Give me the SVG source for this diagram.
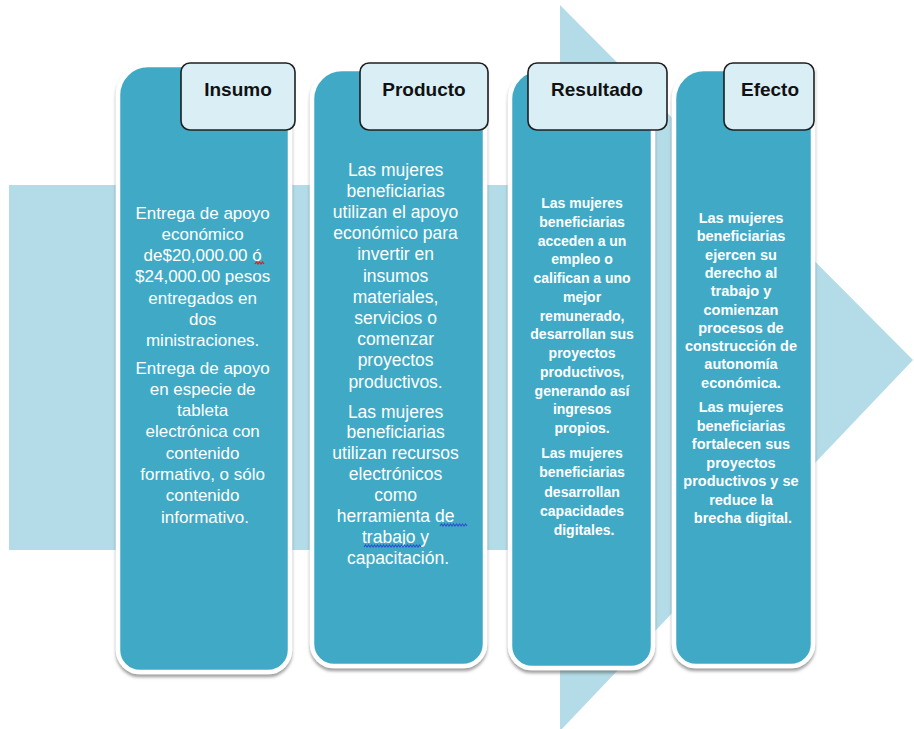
<svg xmlns="http://www.w3.org/2000/svg" width="914" height="729" viewBox="0 0 914 729">
<defs>
<filter id="sh" x="-10%" y="-5%" width="120%" height="112%">
<feDropShadow dx="0" dy="3" stdDeviation="1.8" flood-color="#555" flood-opacity="0.55"/>
</filter>
<style>
.arrow{fill:#b3dce8}
.col{fill:#3faac6;stroke:#ffffff;stroke-width:4.5;filter:url(#sh)}
.hdr{fill:#d9eef5;stroke:#1f1f1f;stroke-width:1.6}
.ht{font-family:"Liberation Sans",Arial,sans-serif;font-weight:bold;font-size:19px;fill:#111;text-anchor:middle}
.bt{font-family:"Liberation Sans",Arial,sans-serif;fill:#ffffff;text-anchor:middle}
.c1{font-size:17px}
.c2{font-size:17.5px}
.c3{font-size:14px;font-weight:bold}
.c4{font-size:14.5px;font-weight:bold}
.sq{fill:none;stroke-width:1.2}
</style>
</defs>
<rect width="914" height="729" fill="#ffffff"/>
<g id="background-arrow">
<rect class="arrow" x="9" y="185" width="553" height="365"/>
<polygon class="arrow" points="560,5 913,360 560,731"/>
</g>
<g id="insumo">
<path class="col" d="M118,95 A30,30 0 0 1 148,65 L290,65 L290,650 A22,22 0 0 1 268,672 L140,672 A22,22 0 0 1 118,650 Z"/>
<rect class="hdr" x="181" y="63" width="114" height="67" rx="9"/>
<text class="ht" x="238" y="96">Insumo</text>
<text class="bt c1">
<tspan x="205" y="218.5">Entrega de apoyo</tspan>
<tspan x="205" y="239.8">económico</tspan>
<tspan x="205" y="261.1">de$20,000.00 ó</tspan>
<tspan x="205" y="282.4">$24,000.00 pesos</tspan>
<tspan x="205" y="303.7">entregados en</tspan>
<tspan x="205" y="325">dos</tspan>
<tspan x="205" y="346.3">ministraciones.</tspan>
<tspan x="205" y="373.5">Entrega de apoyo</tspan>
<tspan x="205" y="394.8">en especie de</tspan>
<tspan x="205" y="416.1">tableta</tspan>
<tspan x="205" y="437.4">electrónica con</tspan>
<tspan x="205" y="458.7">contenido</tspan>
<tspan x="205" y="480">formativo, o sólo</tspan>
<tspan x="205" y="501.3">contenido</tspan>
<tspan x="205" y="522.6">informativo.</tspan>
</text>
<path class="sq" stroke="#d42020" d="M255,264 l1.5,-2 l1.5,2 l1.5,-2 l1.5,2 l1.5,-2 l1.5,2"/>
</g>
<g id="producto">
<path class="col" d="M312,99 A30,30 0 0 1 342,69 L485,69 L485,644 A22,22 0 0 1 463,666 L334,666 A22,22 0 0 1 312,644 Z"/>
<rect class="hdr" x="360" y="63" width="128" height="67" rx="9"/>
<text class="ht" x="424" y="96">Producto</text>
<text class="bt c2">
<tspan x="398" y="175.5">Las mujeres</tspan>
<tspan x="398" y="196.7">beneficiarias</tspan>
<tspan x="398" y="217.9">utilizan el apoyo</tspan>
<tspan x="398" y="239.1">económico para</tspan>
<tspan x="398" y="260.3">invertir en</tspan>
<tspan x="398" y="281.5">insumos</tspan>
<tspan x="398" y="302.7">materiales,</tspan>
<tspan x="398" y="323.9">servicios o</tspan>
<tspan x="398" y="345.1">comenzar</tspan>
<tspan x="398" y="366.3">proyectos</tspan>
<tspan x="398" y="387.5">productivos.</tspan>
<tspan x="398" y="417.5">Las mujeres</tspan>
<tspan x="398" y="438.4">beneficiarias</tspan>
<tspan x="398" y="459.3">utilizan recursos</tspan>
<tspan x="398" y="480.2">electrónicos</tspan>
<tspan x="398" y="501.1">como</tspan>
<tspan x="398" y="522">herramienta de</tspan>
<tspan x="398" y="542.9">trabajo y</tspan>
<tspan x="398" y="563.8">capacitación.</tspan>
</text>
<path class="sq" stroke="#3050d0" d="M440,526 l1.5,-2 l1.5,2 l1.5,-2 l1.5,2 l1.5,-2 l1.5,2 l1.5,-2 l1.5,2 l1.5,-2 l1.5,2 l1.5,-2 l1.5,2 l1.5,-2 l1.5,2 l1.5,-2 l1.5,2 l1.5,-2 l1.5,2"/>
<path class="sq" stroke="#3050d0" d="M364,547 l1.5,-2 l1.5,2 l1.5,-2 l1.5,2 l1.5,-2 l1.5,2 l1.5,-2 l1.5,2 l1.5,-2 l1.5,2 l1.5,-2 l1.5,2 l1.5,-2 l1.5,2 l1.5,-2 l1.5,2 l1.5,-2 l1.5,2 l1.5,-2 l1.5,2 l1.5,-2 l1.5,2 l1.5,-2 l1.5,2 l1.5,-2 l1.5,2 l1.5,-2 l1.5,2 l1.5,-2 l1.5,2 l1.5,-2 l1.5,2 l1.5,-2 l1.5,2 l1.5,-2 l1.5,2 l1.5,-2 l1.5,2"/>
</g>
<g id="resultado">
<path class="col" d="M510,99 A30,30 0 0 1 540,69 L653,69 L653,646 A22,22 0 0 1 631,668 L532,668 A22,22 0 0 1 510,646 Z"/>
<rect class="hdr" x="528" y="63" width="139" height="67" rx="9"/>
<text class="ht" x="597" y="96">Resultado</text>
<text class="bt c3">
<tspan x="584" y="208">Las mujeres</tspan>
<tspan x="584" y="226.75">beneficiarias</tspan>
<tspan x="584" y="245.5">acceden a un</tspan>
<tspan x="584" y="264.25">empleo o</tspan>
<tspan x="584" y="283">califican a uno</tspan>
<tspan x="584" y="301.75">mejor</tspan>
<tspan x="584" y="320.5">remunerado,</tspan>
<tspan x="584" y="339.25">desarrollan sus</tspan>
<tspan x="584" y="358">proyectos</tspan>
<tspan x="584" y="376.75">productivos,</tspan>
<tspan x="584" y="395.5">generando así</tspan>
<tspan x="584" y="414.25">ingresos</tspan>
<tspan x="584" y="433">propios.</tspan>
<tspan x="584" y="458">Las mujeres</tspan>
<tspan x="584" y="477.25">beneficiarias</tspan>
<tspan x="584" y="496.5">desarrollan</tspan>
<tspan x="584" y="515.75">capacidades</tspan>
<tspan x="584" y="535">digitales.</tspan>
</text>
</g>
<g id="efecto">
<path class="col" d="M674,99 A30,30 0 0 1 704,69 L813,69 L813,644 A22,22 0 0 1 791,666 L696,666 A22,22 0 0 1 674,644 Z"/>
<rect class="hdr" x="724" y="63" width="90" height="67" rx="9"/>
<text class="ht" x="770" y="96">Efecto</text>
<text class="bt c4">
<tspan x="743" y="223">Las mujeres</tspan>
<tspan x="743" y="241.3">beneficiarias</tspan>
<tspan x="743" y="259.6">ejercen su</tspan>
<tspan x="743" y="277.9">derecho al</tspan>
<tspan x="743" y="296.2">trabajo y</tspan>
<tspan x="743" y="314.5">comienzan</tspan>
<tspan x="743" y="332.8">procesos de</tspan>
<tspan x="743" y="351.1">construcción de</tspan>
<tspan x="743" y="369.4">autonomía</tspan>
<tspan x="743" y="387.7">económica.</tspan>
<tspan x="743" y="412">Las mujeres</tspan>
<tspan x="743" y="430.5">beneficiarias</tspan>
<tspan x="743" y="449">fortalecen sus</tspan>
<tspan x="743" y="467.5">proyectos</tspan>
<tspan x="743" y="486">productivos y se</tspan>
<tspan x="743" y="504.5">reduce la</tspan>
<tspan x="743" y="523">brecha digital.</tspan>
</text>
</g>
<g id="connectors"></g>
</svg>
